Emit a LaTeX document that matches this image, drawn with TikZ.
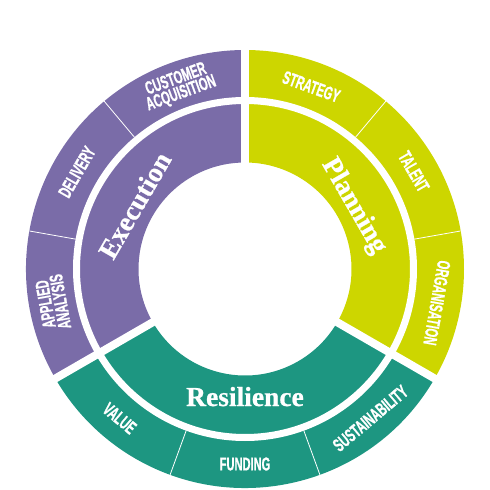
\documentclass[tikz,border=0pt]{standalone}
\usepackage{fontspec}
\usepackage{graphicx}
\setmainfont{Liberation Serif}[BoldFeatures={FakeBold=0.8}]
\newfontfamily\condfont{Liberation Sans}[BoldFeatures={FakeBold=1.2}]
\newcommand{\cnd}[1]{\scalebox{0.6}[1]{#1}}
\definecolor{execpurple}{RGB}{122,108,168}
\definecolor{planlime}{RGB}{205,214,0}
\definecolor{resteal}{RGB}{29,150,129}
\tikzset{
  outlbl/.style={text=white, inner sep=0pt, align=center,
    font=\condfont\bfseries\fontsize{18.5}{15}\selectfont},
  inlbl/.style={text=white, inner sep=0pt, anchor=base,
    font=\bfseries\fontsize{27.5}{29}\selectfont},
  maingap/.style={white, line width=8pt},
  ringgap/.style={white, line width=7pt},
  subgap/.style={white, line width=0.8pt}
}
\newcommand{\annsector}[5]{% color, a1, a2, r1, r2
  \fill[#1] (#2:#4) arc[start angle=#2, end angle=#3, radius=#4pt]
    -- (#3:#5) arc[start angle=#3, end angle=#2, radius=#5pt] -- cycle;}
\begin{document}
\begin{tikzpicture}[x=1pt,y=1pt]
\useasboundingbox (-245,-221) rectangle (245,269);
% sectors
\annsector{planlime}{-30}{90}{106.5}{219}
\annsector{execpurple}{90}{210}{106.5}{219}
\annsector{resteal}{210}{330}{106.5}{219}
% gaps
\draw[ringgap] (0,0) circle[radius=168.5pt];
\foreach \a in {90,210,330} \draw[maingap] (\a:95) -- (\a:230);
\foreach \a in {10,50,130,170,250,290} \draw[subgap] (\a:172) -- (\a:219);
% inner labels
\node[inlbl, rotate=60] (exec) at (150:118) {Execution};
\node[inlbl, rotate=-60] (plan) at (30:119) {Planning};
\node[inlbl] (resil) at (270:137) {Resilience};
% outer labels
\node[outlbl, rotate=20] (custacq) at (110:194) {\cnd{CUSTOMER}\\\cnd{ACQUISITION}};
\node[outlbl, rotate=60] (deliv) at (150:194) {\cnd{DELIVERY}};
\node[outlbl, rotate=100] (applied) at (190:195) {\cnd{APPLIED}\\\cnd{ANALYSIS}};
\node[outlbl, rotate=-20] (strat) at (70:194) {\cnd{STRATEGY}};
\node[outlbl, rotate=-60] (talent) at (30:195) {\cnd{TALENT}};
\node[outlbl, rotate=-100] (organ) at (-10:195) {\cnd{ORGANISATION}};
\node[outlbl, rotate=-40] (value) at (230:195) {\cnd{VALUE}};
\node[outlbl] (fund) at (270:195) {\cnd{FUNDING}};
\node[outlbl, rotate=40] (sustain) at (310:195) {\cnd{SUSTAINABILITY}};
\end{tikzpicture}
\end{document}
